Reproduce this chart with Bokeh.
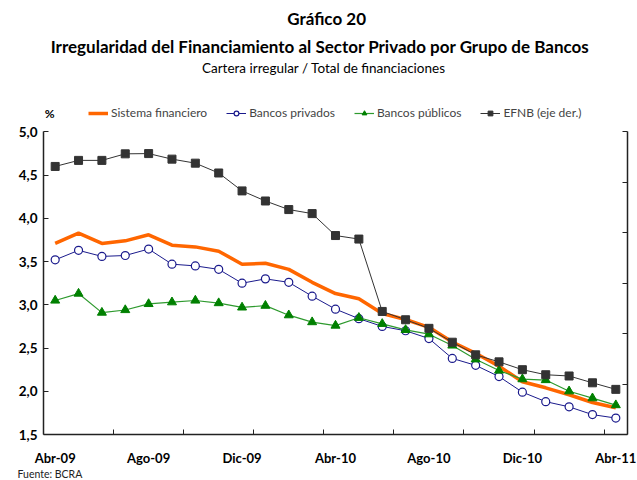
from bokeh.plotting import figure
from bokeh.models import (Range1d, LinearAxis, FixedTicker, Label, Legend, LegendItem,
                          ColumnDataSource, Title)
from bokeh.embed import file_html
from bokeh.resources import INLINE

months = ["Abr-09", "May-09", "Jun-09", "Jul-09", "Ago-09", "Sep-09", "Oct-09", "Nov-09",
          "Dic-09", "Ene-10", "Feb-10", "Mar-10", "Abr-10", "May-10", "Jun-10", "Jul-10",
          "Ago-10", "Sep-10", "Oct-10", "Nov-10", "Dic-10", "Ene-11", "Feb-11", "Mar-11", "Abr-11"]
sistema = [3.71, 3.83, 3.71, 3.74, 3.81, 3.69, 3.67, 3.62, 3.47, 3.48, 3.41, 3.26, 3.13,
           3.07, 2.90, 2.83, 2.74, 2.57, 2.44, 2.29, 2.11, 2.04, 1.96, 1.87, 1.81]
privados = [3.52, 3.63, 3.56, 3.57, 3.645, 3.47, 3.45, 3.41, 3.25, 3.30, 3.26, 3.10, 2.95,
            2.84, 2.75, 2.70, 2.61, 2.38, 2.30, 2.17, 1.99, 1.88, 1.82, 1.73, 1.69]
publicos = [3.05, 3.13, 2.91, 2.94, 3.01, 3.03, 3.05, 3.02, 2.97, 2.99, 2.88, 2.80, 2.76,
            2.85, 2.78, 2.71, 2.66, 2.53, 2.37, 2.24, 2.14, 2.13, 2.00, 1.92, 1.84]
efnb = [10.63, 10.87, 10.87, 11.13, 11.14, 10.92, 10.76, 10.37, 9.66, 9.26, 8.92, 8.76, 7.89,
        7.75, 4.88, 4.55, 4.21, 3.66, 3.16, 2.88, 2.57, 2.37, 2.32, 2.05, 1.79]
label_months = {0: "Abr-09", 4: "Ago-09", 8: "Dic-09", 12: "Abr-10", 16: "Ago-10", 20: "Dic-10", 24: "Abr-11"}
y_ticks = [1.5, 2.0, 2.5, 3.0, 3.5, 4.0, 4.5, 5.0]
y_tick_labels = ["1,5", "2,0", "2,5", "3,0", "3,5", "4,0", "4,5", "5,0"]
efnb_ticks = [0, 2, 4, 6, 8, 10, 12]

FONT = "Lato"
x = list(range(len(months)))
src = ColumnDataSource(dict(x=x, sistema=sistema, privados=privados, publicos=publicos, efnb=efnb))

# frame: x 43..627, y 0..436 (axes drawn only over 132..436 through bounds)
FRAME_H = 436.0
PX_LEFT = (436 - 132) / (5.0 - 1.5)
PX_RIGHT = (436 - 132) / 12.0
y_top = 1.5 + FRAME_H / PX_LEFT
yr_top = FRAME_H / PX_RIGHT

p = figure(width=637, height=480, output_backend="svg", toolbar_location=None,
           x_range=Range1d(-0.5, 24.5), y_range=Range1d(1.5, y_top),
           min_border_left=43, min_border_right=10, min_border_top=0, min_border_bottom=44)
p.extra_y_ranges = {"efnb": Range1d(0, yr_top)}
p.outline_line_color = None
p.grid.grid_line_color = None

# axes
xa = p.xaxis[0]
xa.ticker = FixedTicker(ticks=list(label_months.keys()), minor_ticks=[2.5 + 3 * k for k in range(8)])
xa.major_label_overrides = {k: v for k, v in label_months.items()}
xa.major_tick_in = 0
xa.major_tick_out = 0
xa.minor_tick_in = 5
xa.minor_tick_out = 0
xa.minor_tick_line_color = "#222222"
xa.major_label_standoff = 15
xa.major_label_text_font = FONT
xa.major_label_text_font_style = "bold"
xa.major_label_text_font_size = "13px"
xa.major_label_text_color = "black"
xa.axis_line_color = "#222222"
xa.axis_line_width = 1.5

ya = p.yaxis[0]
ya.bounds = (1.5, 5.0)
ya.ticker = FixedTicker(ticks=y_ticks)
ya.major_label_overrides = dict(zip(y_ticks, y_tick_labels))
ya.major_tick_in = 5
ya.major_tick_out = 0
ya.minor_tick_line_color = None
ya.major_label_standoff = 6
ya.major_label_text_font = FONT
ya.major_label_text_font_style = "bold"
ya.major_label_text_font_size = "13.5px"
ya.major_label_text_color = "black"
ya.axis_line_color = "#222222"
ya.axis_line_width = 1.5
ya.major_tick_line_color = "#222222"

ra = LinearAxis(y_range_name="efnb", ticker=FixedTicker(ticks=efnb_ticks), bounds=(0, 12))
ra.major_tick_in = 5
ra.major_tick_out = 0
ra.minor_tick_line_color = None
ra.major_label_text_alpha = 0
ra.major_label_text_font_size = "1px"
ra.major_label_standoff = 0
ra.axis_line_color = "#222222"
ra.axis_line_width = 1.5
ra.major_tick_line_color = "#222222"
p.add_layout(ra, "right")

# series
r_sis = p.line("x", "sistema", source=src, line_color="#FF6600", line_width=3.5)
r_pri_l = p.line("x", "privados", source=src, line_color="#1A1A8C", line_width=1)
r_pri_m = p.scatter("x", "privados", source=src, marker="circle", size=8,
                    line_color="#1A1A8C", fill_color="white", line_width=1.2)
r_pub_l = p.line("x", "publicos", source=src, line_color="#2E9A2E", line_width=1.2)
r_pub_m = p.scatter("x", "publicos", source=src, marker="triangle", size=9,
                    line_color="#008000", fill_color="#008000")
r_ef_l = p.line("x", "efnb", source=src, y_range_name="efnb", line_color="#333333", line_width=1)
r_ef_m = p.scatter("x", "efnb", source=src, y_range_name="efnb", marker="square", size=8,
                   line_color="#333333", fill_color="#333333")

legend = Legend(items=[
    LegendItem(label="Sistema financiero", renderers=[r_sis]),
    LegendItem(label="Bancos privados", renderers=[r_pri_l, r_pri_m]),
    LegendItem(label="Bancos públicos", renderers=[r_pub_l, r_pub_m]),
    LegendItem(label="EFNB (eje der.)", renderers=[r_ef_l, r_ef_m]),
], orientation="horizontal", location=(45, 314), border_line_color=None,
    background_fill_alpha=0, label_text_font=FONT, label_text_font_size="12px",
    glyph_width=20, glyph_height=12, label_standoff=3, spacing=19, padding=2, margin=0)
p.add_layout(legend)

# texts
def lab(xv, yv, t, size, style="normal", align="center"):
    p.add_layout(Label(x=xv, y=yv, text=t, text_font=FONT, text_font_size=size,
                       text_font_style=style, text_align=align, text_baseline="middle",
                       text_color="black"))

lab(11.62, 6.3125, "Gráfico 20", "17px", "bold")
lab(11.34, 5.99, "Irregularidad del Financiamiento al Sector Privado por Grupo de Bancos", "17px", "bold")
lab(11.5, 5.737, "Cartera irregular / Total de financiaciones", "13.5px")
lab(-0.45, 5.207, "%", "12px", "bold", align="left")

src_title = Title(text="Fuente: BCRA", align="left", offset=-26, standoff=-2,
                  vertical_align="top",
                  text_font=FONT, text_font_size="10.5px", text_font_style="normal",
                  text_color="#222222")
p.add_layout(src_title, "below")

open("out.html", "w").write(file_html(p, INLINE))
